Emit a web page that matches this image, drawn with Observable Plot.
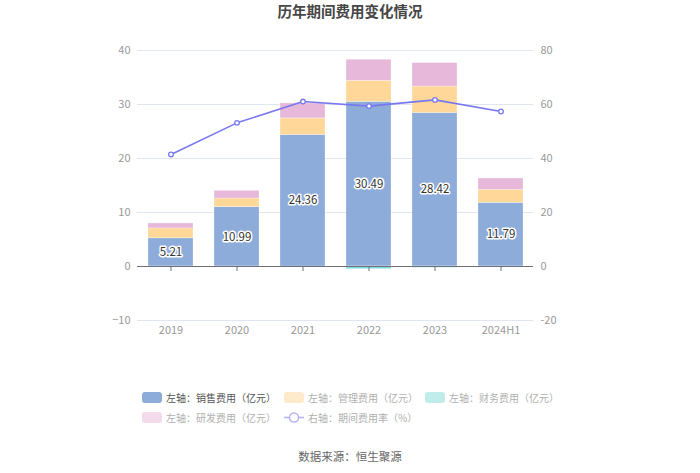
<!DOCTYPE html>
<html>
<head>
<meta charset="utf-8">
<script src="https://cdn.jsdelivr.net/npm/d3@7"></script>
<script src="https://cdn.jsdelivr.net/npm/@observablehq/plot@0.6"></script>
<style>
  body { margin: 0; background: #fff; font-family: "Noto Sans CJK SC", "Noto Sans", sans-serif; }
  #wrap { position: relative; width: 700px; height: 473px; overflow: hidden; }
  #title { position: absolute; top: 0px; left: 0; width: 700px; text-align: center; font-size: 14.5px; font-weight: bold; color: #464646; }
  .leg { position: absolute; display: flex; align-items: center; font-size: 10px; white-space: nowrap; }
  .sw { width: 20px; height: 11px; border-radius: 3px; margin-right: 4px; }
  #source { position: absolute; top: 448px; left: 0; width: 700px; text-align: center; font-size: 11.5px; color: #666; }
  #chart { position: absolute; top: 0; left: 0; }
</style>
</head>
<body>
<div id="wrap">
  <div id="chart"></div>
  <div id="title">历年期间费用变化情况</div>
  <div id="legend"></div>
  <div id="source">数据来源：恒生聚源</div>
</div>
<script>
const years = ["2019", "2020", "2021", "2022", "2023", "2024H1"];
const sales = [5.21, 10.99, 24.36, 30.49, 28.42, 11.79];
const management = [1.84, 1.60, 3.05, 3.90, 4.90, 2.40];
const finance = [-0.08, -0.03, 0.02, -0.50, -0.25, -0.04];
const research = [0.92, 1.42, 2.77, 3.90, 4.35, 2.10];
const expenseRate = [41.5, 53.2, 61.1, 59.4, 61.7, 57.4];
const leftTicks = [-10, 0, 10, 20, 30, 40];
const seriesNames = ["左轴：销售费用（亿元）", "左轴：管理费用（亿元）", "左轴：财务费用（亿元）", "左轴：研发费用（亿元）", "右轴：期间费用率（%）"];
const seriesColors = ["#8dacd9", "#ffd899", "#7fdcdc", "#e7b8d9", "#7878f0"];

const stacked = [];
years.forEach((y, i) => {
  stacked.push({year: y, series: seriesNames[0], value: sales[i]});
  stacked.push({year: y, series: seriesNames[1], value: management[i]});
  stacked.push({year: y, series: seriesNames[2], value: finance[i]});
  stacked.push({year: y, series: seriesNames[3], value: research[i]});
});
const salesRows = years.map((y, i) => ({year: y, value: sales[i]}));
const rateRows = years.map((y, i) => ({year: y, rate: expenseRate[i]}));
// right axis: 80 ↔ 40, so right value / 2 on the shared scale
const toLeft = v => v / 2;

const chart = Plot.plot({
  width: 700,
  height: 473,
  marginLeft: 137,
  marginRight: 167,
  marginTop: 50,
  marginBottom: 153,
  style: {fontFamily: "'Noto Sans CJK SC', sans-serif", fontSize: "11px", background: "transparent"},
  x: {domain: years, paddingInner: 0.32, paddingOuter: 0.16, label: null},
  y: {domain: [-10, 40], label: null},
  color: {domain: seriesNames.slice(0, 4), range: seriesColors.slice(0, 4)},
  marks: [
    Plot.ruleY(leftTicks.filter(t => t !== 0), {y: d => d, stroke: "#e0e6f1", strokeWidth: 1}),
    Plot.barY(stacked, {x: "year", y: "value", fill: "series", order: seriesNames.slice(0, 4), stroke: "#ffffff", strokeOpacity: 0.45, strokeWidth: 0.6}),
    Plot.ruleY([0], {stroke: "#6e7079", strokeWidth: 1}),
    Plot.ruleX(years, {x: d => d, y1: 0, y2: 0, insetBottom: -5, stroke: "#6e7079", strokeWidth: 1}),
    Plot.text(salesRows, {x: "year", y: d => d.value / 2, text: d => d.value.toFixed(2), fill: "#333", stroke: "#fff", strokeWidth: 3, fontSize: 11.5}),
    Plot.line(rateRows, {x: "year", y: d => toLeft(d.rate), stroke: seriesColors[4], strokeWidth: 1.6}),
    Plot.dot(rateRows, {x: "year", y: d => toLeft(d.rate), r: 2.3, fill: "#fff", stroke: seriesColors[4], strokeWidth: 1.3}),
    Plot.axisY(leftTicks, {anchor: "left", tickSize: 0, tickPadding: 7, fill: "#999", fontSize: 11, label: null}),
    Plot.axisY(leftTicks, {anchor: "right", tickSize: 0, tickPadding: 7, tickFormat: d => String(d * 2), fill: "#999", fontSize: 11, label: null}),
    Plot.axisX({anchor: "bottom", tickSize: 0, tickPadding: 6, fill: "#999", fontSize: 11, label: null})
  ]
});
document.getElementById("chart").appendChild(chart);

// legend
const legend = document.getElementById("legend");
const legendItems = [
  {i: 0, left: 142, top: 392, active: true},
  {i: 1, left: 284, top: 392},
  {i: 2, left: 425, top: 392},
  {i: 3, left: 142, top: 412},
  {i: 4, left: 284, top: 412, line: true}
];
const fadedColors = ["#8dacd9", "#ffebcc", "#c0ecec", "#f3dbec", "#b4b4f6"];
legendItems.forEach(it => {
  const el = document.createElement("div");
  el.className = "leg";
  el.style.left = it.left + "px";
  el.style.top = it.top + "px";
  el.style.height = "11px";
  el.style.color = it.active ? "#555" : "#b0b0b0";
  if (it.line) {
    el.innerHTML = `<svg width="20" height="11" style="margin-right:4px"><line x1="0" x2="20" y1="5.5" y2="5.5" stroke="${fadedColors[4]}" stroke-width="1.6"/><circle cx="10" cy="5.5" r="4.5" fill="#fff" stroke="${fadedColors[4]}" stroke-width="1.5"/></svg>`;
  } else {
    el.innerHTML = `<div class="sw" style="background:${fadedColors[it.i]}"></div>`;
  }
  const t = document.createElement("span");
  t.textContent = seriesNames[it.i];
  el.appendChild(t);
  legend.appendChild(el);
});
</script>
</body>
</html>
